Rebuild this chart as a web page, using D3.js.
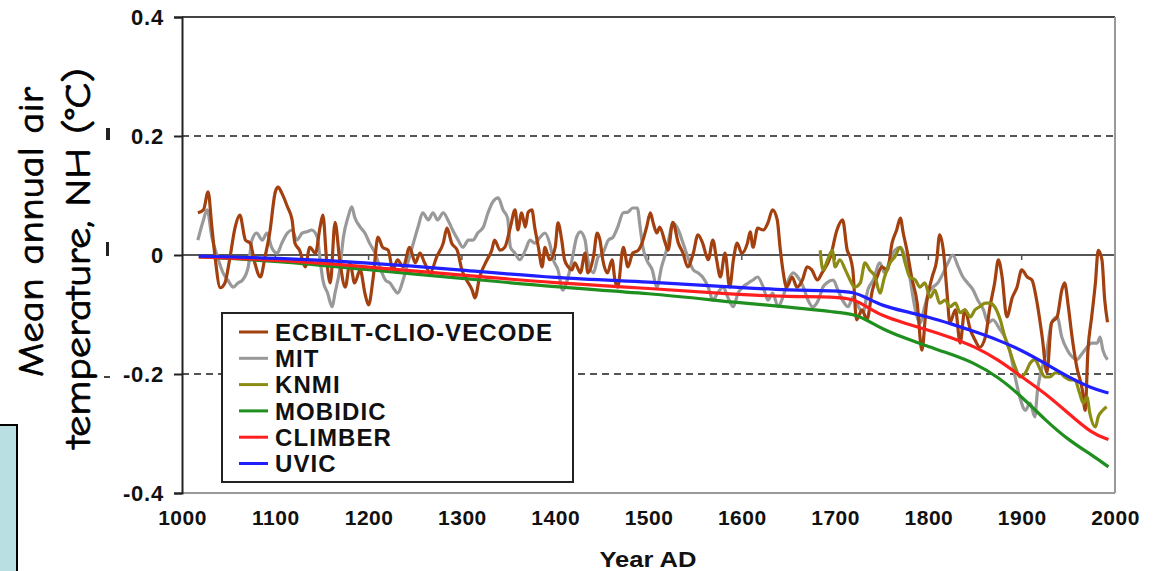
<!DOCTYPE html>
<html>
<head>
<meta charset="utf-8">
<script src="https://cdn.jsdelivr.net/npm/d3@7"></script>
<style>
  body { margin: 0; background: #fff; }
  svg { display: block; }
</style>
</head>
<body>
<svg id="chart" width="1157" height="571"></svg>
<script>
// tick values
const yTicks = [-0.4, -0.2, 0, 0.2, 0.4];
const xTicks = [1000, 1100, 1200, 1300, 1400, 1500, 1600, 1700, 1800, 1900, 2000];

// legend order
const seriesNames = ["ECBILT-CLIO-VECODE", "MIT", "KNMI", "MOBIDIC", "CLIMBER", "UVIC"];
const seriesColors = ["#a3400f", "#999999", "#8c8c14", "#1f8f1f", "#ff1f1f", "#1f1fff"];

// ECBILT-CLIO-VECODE
const ecbiltYears = [1017,1023,1028,1032,1035,1041,1046,1051,1057,1062,1068,1073,1078,1084,1089,1094,1100,1103,1107,1113,1118,1121,1126,1132,1137,1143,1148,1151,1155,1159,1164,1169,1175,1180,1185,1191,1196,1200,1205,1210,1215,1221,1226,1231,1237,1244,1250,1255,1260,1266,1273,1280,1284,1289,1295,1300,1305,1311,1314,1319,1327,1332,1335,1341,1346,1352,1357,1360,1364,1368,1371,1375,1378,1382,1386,1389,1394,1400,1403,1407,1410,1414,1418,1421,1427,1432,1435,1441,1445,1448,1451,1456,1461,1464,1467,1473,1478,1483,1489,1493,1498,1502,1505,1509,1512,1518,1521,1526,1532,1537,1542,1548,1553,1558,1564,1569,1573,1577,1582,1587,1591,1595,1600,1606,1609,1612,1617,1623,1628,1633,1638,1641,1644,1648,1654,1659,1665,1670,1675,1681,1686,1695,1702,1708,1713,1716,1719,1723,1729,1734,1740,1745,1750,1756,1761,1766,1770,1773,1777,1782,1788,1793,1798,1804,1809,1812,1816,1820,1823,1829,1834,1839,1845,1850,1855,1861,1866,1871,1875,1879,1884,1890,1895,1900,1906,1911,1916,1922,1927,1932,1938,1943,1946,1950,1954,1959,1965,1968,1971,1975,1979,1982,1986,1989,1992];
const ecbiltValues = [0.071,0.076,0.106,0.047,0.003,-0.055,-0.047,-0.008,0.047,0.067,0.025,0.02,-0.013,-0.037,-0.003,0.037,0.106,0.114,0.104,0.081,0.059,0.02,0.008,-0.02,0.013,0.003,0.047,0.067,-0.008,-0.047,0.055,-0.008,-0.054,-0.013,-0.047,-0.025,-0.064,-0.084,-0.037,0.03,0.013,0.008,-0.025,-0.008,-0.02,0.013,-0.013,0.003,-0.013,-0.03,-0.003,0.02,0.045,0.02,0.008,-0.025,-0.042,-0.059,-0.072,-0.037,-0.008,0.008,0.025,0.008,0.013,0.047,0.076,0.042,0.071,0.047,0.072,0.076,0.047,0.013,-0.02,0.013,-0.008,0.013,0.054,0.025,-0.008,-0.02,-0.025,-0.013,-0.03,0.003,-0.03,-0.003,0.037,0.025,-0.008,-0.03,-0.008,-0.042,-0.054,0.013,-0.02,0.003,0.008,0.02,0.047,0.071,0.054,0.037,0.047,0.02,0.008,0.055,0.02,0.003,-0.02,0.003,0.034,0.02,-0.008,0.025,-0.008,-0.037,0.003,-0.054,-0.008,0.02,0.003,0.02,0.039,0.013,0.045,0.042,0.054,0.076,0.059,0.013,-0.025,-0.054,-0.037,-0.054,-0.042,-0.02,-0.025,-0.042,-0.03,-0.003,0.042,0.059,0.008,-0.003,-0.025,-0.109,-0.092,-0.109,-0.059,-0.037,-0.02,-0.025,0.02,0.042,0.062,0.037,0.008,-0.037,-0.081,-0.16,-0.081,-0.037,-0.008,0.034,0.008,-0.064,-0.114,-0.092,-0.148,-0.092,-0.126,-0.143,-0.155,-0.138,-0.087,-0.047,-0.008,-0.037,-0.104,-0.071,-0.054,-0.025,-0.037,-0.042,-0.076,-0.138,-0.198,-0.114,-0.104,-0.059,-0.047,-0.087,-0.138,-0.188,-0.227,-0.261,-0.16,-0.104,-0.047,0.008,-0.008,-0.076,-0.113];

// MIT
const mitYears = [1017,1023,1027,1032,1038,1044,1049,1055,1060,1065,1071,1075,1080,1086,1091,1096,1102,1107,1113,1118,1123,1129,1134,1139,1145,1148,1151,1156,1161,1164,1169,1173,1178,1182,1185,1191,1196,1201,1207,1212,1218,1223,1228,1231,1237,1242,1248,1253,1258,1264,1269,1274,1280,1285,1290,1296,1301,1307,1312,1317,1323,1328,1333,1339,1344,1349,1352,1357,1362,1368,1373,1378,1384,1389,1394,1398,1403,1408,1413,1418,1423,1427,1432,1435,1441,1446,1451,1457,1462,1467,1473,1478,1483,1488,1491,1494,1498,1504,1509,1514,1520,1523,1526,1532,1537,1542,1548,1553,1558,1564,1569,1574,1580,1585,1591,1596,1601,1607,1612,1617,1623,1628,1633,1639,1644,1650,1655,1660,1666,1671,1676,1682,1687,1691,1698,1703,1708,1714,1719,1725,1730,1735,1741,1748,1753,1759,1764,1770,1775,1780,1786,1791,1796,1800,1805,1810,1816,1821,1826,1832,1837,1842,1848,1853,1859,1864,1869,1877,1882,1887,1893,1898,1904,1909,1914,1917,1922,1927,1932,1938,1943,1949,1954,1959,1965,1970,1975,1981,1984,1987,1992];
const mitValues = [0.025,0.059,0.076,0.03,-0.003,-0.03,-0.042,-0.054,-0.047,-0.042,-0.02,0.025,0.037,0.025,0.037,0.013,0.003,0.02,0.037,0.042,0.025,0.037,0.039,0.042,0.03,-0.008,-0.042,-0.064,-0.087,-0.064,-0.025,0.03,0.064,0.081,0.064,0.047,0.037,0.02,0.003,-0.02,-0.042,-0.047,-0.059,-0.064,-0.042,-0.013,0.02,0.047,0.071,0.059,0.071,0.059,0.071,0.059,0.042,0.025,0.013,0.025,0.025,0.037,0.047,0.071,0.089,0.096,0.076,0.062,0.013,0.003,-0.008,0.008,0.025,0.02,0.03,0.037,0.02,-0.008,-0.025,-0.059,-0.042,-0.008,0.03,0.039,0.025,-0.008,-0.03,-0.003,0.003,0.025,0.03,0.047,0.071,0.072,0.079,0.079,0.047,0.013,-0.008,-0.025,-0.054,-0.02,0.013,0.037,0.054,0.042,0.02,-0.003,-0.025,-0.03,-0.037,-0.054,-0.076,-0.064,-0.054,-0.071,-0.087,-0.064,-0.054,-0.047,-0.042,-0.037,-0.054,-0.076,-0.064,-0.087,-0.071,-0.042,-0.03,-0.037,-0.054,-0.076,-0.087,-0.076,-0.054,-0.047,-0.042,-0.059,-0.076,-0.087,-0.071,-0.087,-0.097,-0.059,-0.042,-0.013,-0.03,-0.008,0.008,0.013,-0.003,-0.037,-0.092,-0.114,-0.087,-0.064,-0.054,-0.047,-0.03,-0.013,0.0,-0.02,-0.037,-0.047,-0.059,-0.076,-0.092,-0.114,-0.109,-0.126,-0.138,-0.16,-0.205,-0.239,-0.261,-0.249,-0.272,-0.227,-0.188,-0.16,-0.114,-0.104,-0.138,-0.16,-0.171,-0.176,-0.165,-0.155,-0.148,-0.148,-0.138,-0.16,-0.176];

// KNMI
const knmiYears = [1684,1687,1692,1697,1700,1705,1711,1716,1721,1727,1732,1737,1743,1748,1753,1759,1764,1770,1775,1780,1786,1791,1796,1802,1807,1812,1818,1823,1829,1834,1839,1845,1850,1855,1861,1866,1871,1877,1882,1887,1893,1898,1904,1909,1914,1920,1925,1930,1936,1941,1946,1952,1957,1962,1966,1970,1973,1979,1982,1987,1991];
const knmiValues = [0.008,-0.025,-0.008,0.008,-0.02,-0.008,-0.025,-0.042,-0.054,-0.047,-0.013,-0.025,-0.037,-0.064,-0.037,-0.013,-0.003,0.013,-0.013,-0.037,-0.042,-0.054,-0.047,-0.071,-0.059,-0.081,-0.076,-0.087,-0.081,-0.097,-0.092,-0.104,-0.092,-0.087,-0.081,-0.081,-0.087,-0.109,-0.138,-0.16,-0.188,-0.205,-0.198,-0.182,-0.176,-0.193,-0.205,-0.205,-0.198,-0.198,-0.205,-0.21,-0.21,-0.232,-0.249,-0.239,-0.266,-0.289,-0.272,-0.261,-0.255];

// smooth models share one year grid
const smoothYears = [1018,1100,1200,1300,1400,1500,1600,1650,1700,1720,1735,1750,1775,1800,1825,1850,1875,1900,1925,1950,1975,1993];
const mobidicValues = [-0.003,-0.01,-0.025,-0.039,-0.054,-0.064,-0.081,-0.087,-0.096,-0.099,-0.11,-0.124,-0.14,-0.154,-0.167,-0.182,-0.205,-0.238,-0.277,-0.311,-0.336,-0.356];
const climberValues = [-0.003,-0.008,-0.02,-0.034,-0.047,-0.056,-0.067,-0.07,-0.07,-0.074,-0.088,-0.102,-0.115,-0.126,-0.139,-0.154,-0.176,-0.205,-0.232,-0.266,-0.3,-0.31];
const uvicValues = [-0.002,-0.005,-0.013,-0.025,-0.039,-0.045,-0.055,-0.059,-0.06,-0.062,-0.073,-0.085,-0.095,-0.104,-0.116,-0.129,-0.143,-0.16,-0.182,-0.205,-0.224,-0.232];

const svg = d3.select("#chart");

const x = d3.scaleLinear().domain([1000, 2000]).range([182, 1115]);
const y = d3.scaleLinear().domain([-0.4, 0.4]).range([493, 17]);

const zip = (ys, vs) => ys.map((yr, i) => ({ year: yr, value: vs[i] }));

// left light blue box (cut off at the edge)
svg.append("rect")
  .attr("x", -2).attr("y", 425).attr("width", 19).attr("height", 160)
  .attr("fill", "#b9dfe3").attr("stroke", "#000").attr("stroke-width", 2);

// y title, two rotated lines
const titleFont = "'Comic Sans MS', 'Comic Neue', 'DejaVu Sans', sans-serif";
svg.append("text")
  .attr("transform", "translate(43,232) rotate(-90)")
  .attr("text-anchor", "middle")
  .attr("textLength", 290).attr("lengthAdjust", "spacingAndGlyphs")
  .style("font-family", titleFont).style("font-size", "36px")
  .attr("stroke", "#000").attr("stroke-width", 0.7)
  .text("Mean annual air");
svg.append("text")
  .attr("transform", "translate(90,258) rotate(-90)")
  .attr("text-anchor", "middle")
  .attr("textLength", 380).attr("lengthAdjust", "spacingAndGlyphs")
  .style("font-family", titleFont).style("font-size", "36px")
  .attr("stroke", "#000").attr("stroke-width", 0.7)
  .text("temperature, NH (°C)");

// stray marks beside the title
svg.append("rect").attr("x", 106).attr("y", 128).attr("width", 4).attr("height", 12).attr("fill", "#222");
svg.append("rect").attr("x", 106).attr("y", 242).attr("width", 3).attr("height", 14).attr("fill", "#222");
svg.append("rect").attr("x", 104).attr("y", 376).attr("width", 6).attr("height", 2).attr("fill", "#444");

// gridlines at +-0.2 (dashed) and 0 (solid)
svg.selectAll(".dash")
  .data([0.2, -0.2])
  .enter().append("line")
  .attr("x1", x(1000)).attr("x2", x(2000))
  .attr("y1", d => y(d)).attr("y2", d => y(d))
  .attr("stroke", "#555").attr("stroke-width", 2)
  .attr("stroke-dasharray", "7,5");

svg.append("line")
  .attr("x1", x(1000)).attr("x2", x(2000))
  .attr("y1", y(0)).attr("y2", y(0))
  .attr("stroke", "#555").attr("stroke-width", 2);

// little ticks on the zero line
svg.selectAll(".ztick")
  .data(xTicks.slice(1, -1))
  .enter().append("line")
  .attr("x1", d => x(d)).attr("x2", d => x(d))
  .attr("y1", y(0)).attr("y2", y(0) + 5)
  .attr("stroke", "#555").attr("stroke-width", 1.5);

// frame: top dark, right and bottom gray
svg.append("line").attr("x1", x(1000)).attr("x2", x(2000)).attr("y1", y(0.4)).attr("y2", y(0.4))
  .attr("stroke", "#444").attr("stroke-width", 2);
svg.append("line").attr("x1", x(2000)).attr("x2", x(2000)).attr("y1", y(0.4)).attr("y2", y(-0.4))
  .attr("stroke", "#999").attr("stroke-width", 2);
svg.append("line").attr("x1", x(1000)).attr("x2", x(2000)).attr("y1", y(-0.4)).attr("y2", y(-0.4))
  .attr("stroke", "#999").attr("stroke-width", 2);

// series
const lineGen = d3.line().x(d => x(d.year)).y(d => y(d.value)).curve(d3.curveMonotoneX);
const smoothGen = d3.line().x(d => x(d.year)).y(d => y(d.value)).curve(d3.curveBasis);

const noisy = [
  { data: zip(mitYears, mitValues), color: seriesColors[1] },
  { data: zip(ecbiltYears, ecbiltValues), color: seriesColors[0] },
  { data: zip(knmiYears, knmiValues), color: seriesColors[2] }
];
const smooth = [
  { data: zip(smoothYears, mobidicValues), color: seriesColors[3] },
  { data: zip(smoothYears, climberValues), color: seriesColors[4] },
  { data: zip(smoothYears, uvicValues), color: seriesColors[5] }
];

svg.selectAll(".noisy")
  .data(noisy)
  .enter().append("path")
  .attr("d", d => lineGen(d.data))
  .attr("fill", "none")
  .attr("stroke", d => d.color)
  .attr("stroke-width", 3.2)
  .attr("stroke-linejoin", "round");

svg.selectAll(".smooth")
  .data(smooth)
  .enter().append("path")
  .attr("d", d => smoothGen(d.data))
  .attr("fill", "none")
  .attr("stroke", d => d.color)
  .attr("stroke-width", 3.2);

// axes
const yAxis = svg.append("g")
  .attr("transform", `translate(${x(1000)},0)`)
  .call(d3.axisLeft(y).tickValues(yTicks).tickSize(8).tickPadding(10)
    .tickFormat(d => d === 0 ? "0" : d.toFixed(1)));
yAxis.select(".domain").attr("stroke", "#222").attr("stroke-width", 2);
yAxis.selectAll(".tick line").attr("stroke", "#222").attr("stroke-width", 2);
yAxis.selectAll("text")
  .style("font-family", "'Liberation Sans', Arial, sans-serif")
  .style("font-weight", "bold").style("font-size", "22px")
  .style("letter-spacing", "0.8px").attr("fill", "#111");

const xAxis = svg.append("g")
  .attr("transform", `translate(0,${y(-0.4)})`)
  .call(d3.axisBottom(x).tickValues(xTicks).tickSize(0).tickPadding(17).tickFormat(d3.format("d")));
xAxis.select(".domain").remove();
xAxis.selectAll("text")
  .style("font-family", "'Liberation Sans', Arial, sans-serif")
  .style("font-weight", "bold").style("font-size", "21px")
  .style("letter-spacing", "0.5px").attr("fill", "#111");

svg.append("text")
  .attr("x", 648).attr("y", 567)
  .attr("text-anchor", "middle")
  .style("font-family", "'Liberation Sans', Arial, sans-serif")
  .style("font-weight", "bold").style("font-size", "22px")
  .attr("textLength", 97).attr("lengthAdjust", "spacingAndGlyphs")
  .attr("fill", "#111")
  .text("Year AD");

// legend
const legend = svg.append("g");
legend.append("rect")
  .attr("x", 222).attr("y", 313).attr("width", 351).attr("height", 169)
  .attr("fill", "#fff").attr("stroke", "#222").attr("stroke-width", 2);

const rows = legend.selectAll(".row")
  .data(seriesNames)
  .enter().append("g")
  .attr("transform", (d, i) => `translate(0,${332 + i * 26.3})`);
rows.append("line")
  .attr("x1", 239).attr("x2", 268)
  .attr("stroke", (d, i) => seriesColors[i]).attr("stroke-width", 3);
rows.append("text")
  .attr("x", 275).attr("dy", "0.36em")
  .style("font-family", "'Liberation Sans', Arial, sans-serif")
  .style("font-weight", "bold").style("font-size", "24px")
  .style("letter-spacing", "1.1px")
  .attr("fill", "#111")
  .text(d => d);
</script>
</body>
</html>
